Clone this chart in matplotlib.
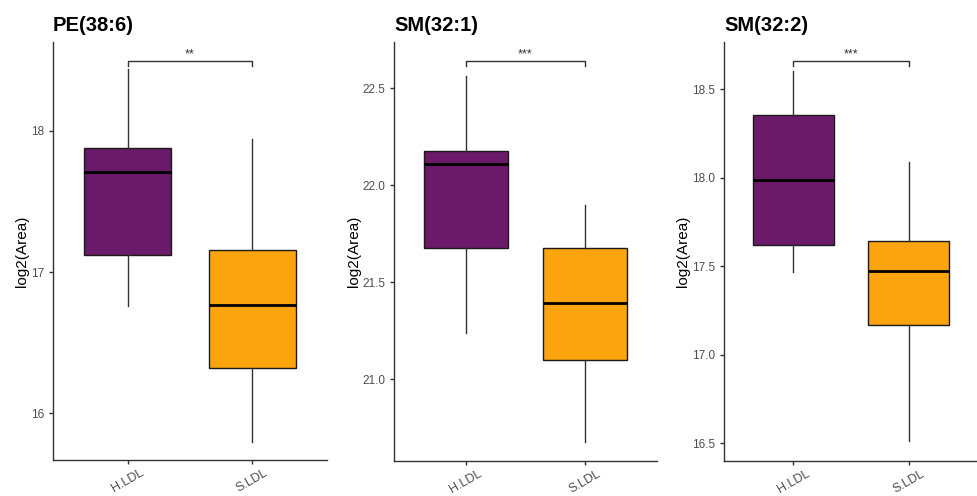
import matplotlib
matplotlib.use("Agg")
import matplotlib.pyplot as plt

plt.rcParams['font.family'] = ['Liberation Sans', 'DejaVu Sans']

# -----------------------------
# Data
# -----------------------------
groups = ["H.LDL", "S.LDL"]
titles = ["PE(38:6)", "SM(32:1)", "SM(32:2)"]
stars = ["**", "***", "***"]

# per panel: [H.LDL, S.LDL]
whislo = [[16.76, 15.80], [21.237, 20.678], [17.465, 16.515]]
q1 = [[17.12, 16.32], [21.677, 21.10], [17.621, 17.17]]
med = [[17.71, 16.765], [22.11, 21.393], [17.985, 17.474]]
q3 = [[17.877, 17.16], [22.176, 21.677], [18.355, 17.642]]
whishi = [[18.44, 17.94], [22.56, 21.90], [18.601, 18.088]]
bracket_y = [18.495, 22.638, 18.657]

ylims = [(15.67, 18.63), (20.58, 22.737), (16.40, 18.766)]
yticks = [[16, 17, 18], [21.0, 21.5, 22.0, 22.5], [16.5, 17.0, 17.5, 18.0, 18.5]]
ytick_labels = [["16", "17", "18"], ["21.0", "21.5", "22.0", "22.5"],
                ["16.5", "17.0", "17.5", "18.0", "18.5"]]

colors = ["#6A1A68", "#FBA40E"]

# axes boxes in pixels: left, right, top, bottom
W, H = 978, 496
panels_px = [(53, 327, 42, 460), (394, 657, 42, 461), (724, 978, 42, 461)]

fig = plt.figure(figsize=(W / 100, H / 100), dpi=100)

for i in range(3):
    l, r, t, b = panels_px[i]
    ax = fig.add_axes([l / W, 1 - b / H, (r - l) / W, (b - t) / H])

    stats = []
    for j in range(2):
        stats.append({"whislo": whislo[i][j], "q1": q1[i][j], "med": med[i][j],
                      "q3": q3[i][j], "whishi": whishi[i][j], "fliers": []})
    bp = ax.bxp(stats, positions=[1, 2], widths=0.7, patch_artist=True,
                showcaps=False,
                boxprops=dict(edgecolor="#1a1a1a", linewidth=1.0),
                medianprops=dict(color="black", linewidth=2.0),
                whiskerprops=dict(color="#333333", linewidth=1.0))
    for patch, c in zip(bp["boxes"], colors):
        patch.set_facecolor(c)

    # significance bracket
    by = bracket_y[i]
    span = ylims[i][1] - ylims[i][0]
    tick = span * 0.012
    ax.plot([1, 1, 2, 2], [by - tick, by, by, by - tick], color="#333333", lw=1.0)
    ax.text(1.5, by + span * 0.002, stars[i], ha="center", va="bottom",
            fontsize=9, color="#333333")

    ax.set_xlim(0.4, 2.6)
    ax.set_ylim(*ylims[i])
    ax.set_xticks([1, 2])
    ax.set_xticklabels(groups, rotation=30, fontsize=9, color="#4D4D4D")
    ax.set_yticks(yticks[i])
    ax.set_yticklabels(ytick_labels[i], fontsize=8.5, color="#4D4D4D")
    ax.tick_params(length=3, width=1, color="#333333")
    ax.tick_params(axis="x", pad=2)
    for s in ["top", "right"]:
        ax.spines[s].set_visible(False)
    for s in ["left", "bottom"]:
        ax.spines[s].set_color("#333333")
        ax.spines[s].set_linewidth(1.0)
    ax.set_ylabel("log2(Area)", fontsize=11, labelpad=1)
    ax.set_title(titles[i], loc="left", fontweight="bold", fontsize=14.5, pad=8)

plt.savefig("out.png", dpi=100)
plt.close()
